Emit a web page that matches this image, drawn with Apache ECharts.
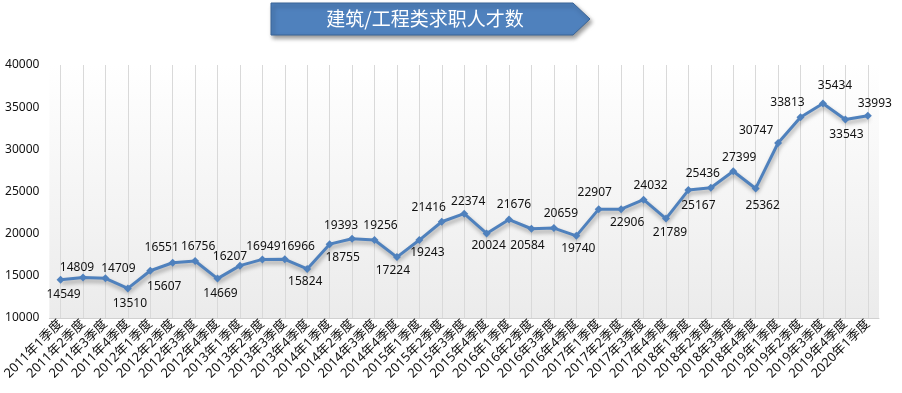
<!DOCTYPE html>
<html><head><meta charset="utf-8">
<script src="https://cdn.jsdelivr.net/npm/echarts@6/dist/echarts.min.js"></script>
<style>html,body{margin:0;padding:0;background:#fff}#c{width:902px;height:393px}</style>
</head><body><div id="c"></div>
<script>
var titleText = '建筑/工程类求职人才数';
var categories = ['2011年1季度','2011年2季度','2011年3季度','2011年4季度',
'2012年1季度','2012年2季度','2012年3季度','2012年4季度',
'2013年1季度','2013年2季度','2013年3季度','2013年4季度',
'2014年1季度','2014年2季度','2014年3季度','2014年4季度',
'2015年1季度','2015年2季度','2015年3季度','2015年4季度',
'2016年1季度','2016年2季度','2016年3季度','2016年4季度',
'2017年1季度','2017年2季度','2017年3季度','2017年4季度',
'2018年1季度','2018年2季度','2018年3季度','2018年4季度',
'2019年1季度','2019年2季度','2019年3季度','2019年4季度',
'2020年1季度'];
var values = [14549,14809,14709,13510,
15607,16551,16756,14669,
16207,16949,16966,15824,
18755,19393,19256,17224,
19243,21416,22374,20024,
21676,20584,20659,19740,
22907,22906,24032,21789,
25167,25436,27399,25362,
30747,33813,35434,33543,
33993];
// label offsets (px) from each point, as placed in the reference
var labelDx = [3,-6,13,2, 14,-11,3,3, -10,1,13,-2, 13,-11,6,-4, 8,-13,4,2, 5,-4,7,2, -4,6,7,4, 10,-8,6,7, -22,-13,12,1, 7];
var labelDy = [15,-10,-10,15, 16,-15,-14,15, -9,-13,-13,13, 13,-13,-14,14, 13,-14,-12,12, -15,17,-15,13, -17,13,-14,14, 15,-14,-14,17, -12,-15,-18,15, -12];
var yMin = 10000, yMax = 40000, yStep = 5000;

var font = '"Noto Sans", "Noto Sans CJK SC", sans-serif';
var cjk = '"Noto Sans CJK SC", sans-serif';
var chart = echarts.init(document.getElementById('c'));
var seriesData = values.map(function(v, i){
  return {value: v, label: {position: 'inside', offset: [labelDx[i], labelDy[i]]}};
});
chart.setOption({
  animation: false,
  grid: {left: 48, right: 23, top: 65, bottom: 75, show: true, borderWidth: 0,
    backgroundColor: new echarts.graphic.LinearGradient(0,0,0,1,[{offset:0,color:'#ffffff'},{offset:1,color:'#ebebeb'}])},
  xAxis: {type: 'category', data: categories, boundaryGap: true,
    axisLine: {show: true, lineStyle: {color: '#d0d0d0', width: 1}},
    axisTick: {show: false},
    splitLine: {show: true, alignWithLabel: true, lineStyle: {color: '#d9d9d9', width: 1}},
    axisLabel: {interval: 0, rotate: 45, fontSize: 13, color: '#111', fontFamily: font, margin: 4, padding: [14, 0, 0, 0]}
  },
  yAxis: {type: 'value', min: yMin, max: yMax, interval: yStep,
    axisLine: {show: false}, axisTick: {show: false}, splitLine: {show: false},
    axisLabel: {fontSize: 12, color: '#111', fontFamily: font, margin: 10, formatter: function(v){ return String(v); }}
  },
  series: [{
    type: 'line', data: seriesData,
    symbol: 'diamond', symbolSize: 8,
    lineStyle: {color: '#4f81bd', width: 3, shadowColor: 'rgba(0,0,0,0.35)', shadowBlur: 4, shadowOffsetY: 3, shadowOffsetX: 1},
    itemStyle: {color: '#4f81bd'},
    label: {show: true, fontSize: 12, color: '#111', fontFamily: font}
  }],
  graphic: [{
    type: 'polygon', shape: {points: [[271,3],[573,3],[590,19],[573,35],[271,35]]},
    style: {fill: '#4f81bd', stroke: '#3a6496', lineWidth: 1, shadowColor: 'rgba(0,0,0,0.4)', shadowBlur: 4, shadowOffsetX: 2, shadowOffsetY: 3}
  }, {
    type: 'text', x: 425, y: 19,
    style: {text: titleText, fill: '#fff', font: '19px ' + cjk, textAlign: 'center', textVerticalAlign: 'middle'}
  }]
});
</script></body></html>
